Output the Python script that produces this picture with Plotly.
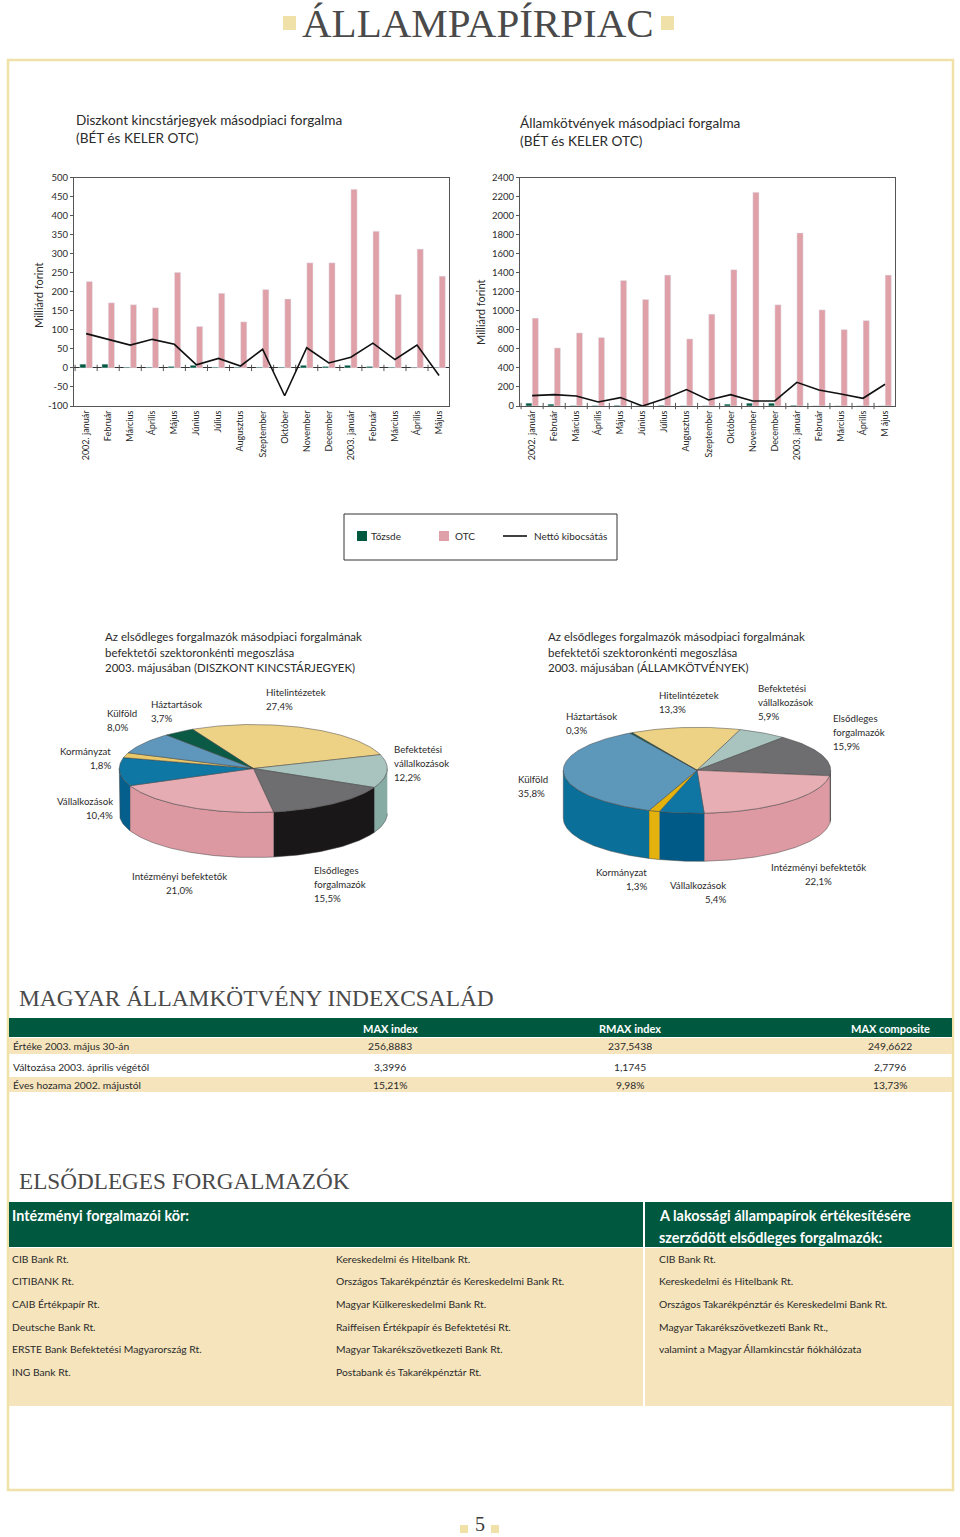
import math
import plotly.graph_objects as go

W, H = 960, 1537
NARROW = "Lato, Liberation Sans, sans-serif"
SERIF = "Liberation Serif, serif"

months_left = ["2002. január", "Február", "Március", "Április", "Május", "Június", "Július", "Augusztus",
               "Szeptember", "Október", "November", "December", "2003. január", "Február", "Március", "Április", "Május"]
months_right = months_left[:-1] + ["M ájus"]

disc_tozsde = [10, 10, 2, 2, 4, 7, 2, 2, 2, 2, 7, 4, 7, 4, 2, 0.5, 1]
disc_otc = [227, 171, 166, 158, 251, 109, 196, 121, 206, 181, 276, 276, 469, 359, 193, 312, 241]
disc_net = [90, 74, 60, 75, 62, 8, 25, 5, 49, -73, 53, 13, 28, 65, 22, 60, -20]
disc_ticks = [-100, -50, 0, 50, 100, 150, 200, 250, 300, 350, 400, 450, 500]

bond_tozsde = [30, 20, 5, 6, 8, 3, 8, 3, 3, 20, 30, 30, 8, 2, 2, 2, 2]
bond_otc = [923, 610, 768, 719, 1319, 1119, 1375, 705, 965, 1432, 2246, 1063, 1818, 1010, 803, 898, 1375]
bond_net = [109, 119, 105, 42, 88, 0, 77, 172, 63, 119, 53, 53, 249, 168, 126, 81, 228]
bond_ticks = [0, 200, 400, 600, 800, 1000, 1200, 1400, 1600, 1800, 2000, 2200, 2400]

pie_names = ["Hitelintézetek", "Befektetési vállalkozások", "Elsődleges forgalmazók", "Intézményi befektetők",
             "Vállalkozások", "Kormányzat", "Külföld", "Háztartások"]
pie_left = [27.4, 12.2, 15.5, 21.0, 10.4, 1.8, 8.0, 3.7]
pie_right = [13.3, 5.9, 15.9, 22.1, 5.4, 1.3, 35.8, 0.3]

index_cols = ["MAX index", "RMAX index", "MAX composite"]
index_rows = ["Értéke 2003. május 30-án", "Változása 2003. április végétől", "Éves hozama 2002. májustól"]
index_vals = [["256,8883", "237,5438", "249,6622"], ["3,3996", "1,1745", "2,7796"], ["15,21%", "9,98%", "13,73%"]]

dealers_a = ["CIB Bank Rt.", "CITIBANK Rt.", "CAIB Értékpapír Rt.", "Deutsche Bank Rt.",
             "ERSTE Bank Befektetési Magyarország Rt.", "ING Bank Rt."]
dealers_b = ["Kereskedelmi és Hitelbank Rt.", "Országos Takarékpénztár és Kereskedelmi Bank Rt.",
             "Magyar Külkereskedelmi Bank Rt.", "Raiffeisen Értékpapír és Befektetési Rt.",
             "Magyar Takarékszövetkezeti Bank Rt.", "Postabank és Takarékpénztár Rt."]
dealers_c = ["CIB Bank Rt.", "Kereskedelmi és Hitelbank Rt.", "Országos Takarékpénztár és Kereskedelmi Bank Rt.",
             "Magyar Takarékszövetkezeti Bank Rt.,", "valamint a Magyar Államkincstár fiókhálózata"]

GREEN = "#00583F"
PINK = "#DFA0A8"
BEIGE = "#F5E4BC"
FRAME = "#F0E1A8"
TXT = "#2B2B2B"
AXIS = "#555555"

fig = go.Figure()
ann, shp = [], []


def px(x):
    return x / W


def py(y):
    return 1 - y / H


def text(x, y, s, size=10, color=TXT, anchor="left", family=NARROW, angle=0):
    if angle == 0:
        x = x - 2 if anchor == "left" else x + 2 if anchor == "right" else x
    ann.append(dict(x=px(x), y=py(y), xref="paper", yref="paper", text=s, showarrow=False, xanchor=anchor,
                    yanchor="middle", align=anchor, textangle=angle, font=dict(family=family, size=size, color=color)))


def rect(x0, y0, x1, y1, fill=None, line=None, lw=0):
    shp.append(dict(type="rect", xref="paper", yref="paper", x0=px(x0), x1=px(x1), y0=py(y0), y1=py(y1),
                    fillcolor=fill, line=dict(color=line, width=lw), layer="below"))


def bars(tozsde, otc, net, xa, ya):
    xs = list(range(17))
    fig.add_trace(go.Bar(x=xs, y=tozsde, marker_color=GREEN, name="Tőzsde", xaxis=xa, yaxis=ya, showlegend=False,
                         cliponaxis=False))
    fig.add_trace(go.Bar(x=xs, y=otc, marker_color=PINK, name="OTC", xaxis=xa, yaxis=ya, showlegend=False))
    fig.add_trace(go.Scatter(x=[i - 0.5 for i in range(18)], y=[0] * 18, mode="markers", xaxis=xa, yaxis=ya,
                             marker=dict(symbol="line-ns", size=4.5, line=dict(color="#444444", width=0.9)),
                             cliponaxis=False, showlegend=False, hoverinfo="skip"))
    fig.add_trace(go.Scatter(x=xs, y=net, mode="lines", line=dict(color="#111111", width=1.6),
                             name="Nettó kibocsátás", xaxis=xa, yaxis=ya, showlegend=False))


bars(disc_tozsde, disc_otc, disc_net, "x", "y")
bars(bond_tozsde, bond_otc, bond_net, "x2", "y2")


def xaxis_cfg(x0, x1, labels, anchor):
    return dict(domain=[px(x0), px(x1)], range=[-0.55, 16.45], anchor=anchor, tickmode="array",
                tickvals=list(range(17)), ticktext=labels, tickangle=-90, ticks="", showgrid=False, zeroline=False,
                showline=True, mirror=True, linecolor=AXIS, linewidth=1, tickfont=dict(family=NARROW, size=9, color=TXT))


def yaxis_cfg(rng, vals, anchor):
    return dict(domain=[py(406), py(177.5)], range=rng, tickmode="array", tickvals=vals, ticktext=[str(v) for v in vals],
                anchor=anchor, ticks="outside", ticklen=3,
                tickcolor=AXIS, showgrid=False, zeroline=True, zerolinecolor="#333333", zerolinewidth=1,
                showline=True, mirror=True, linecolor=AXIS, linewidth=1, tickfont=dict(family=NARROW, size=9.5, color=TXT))


# pie side and top colours
TOP_L = ["#EDD184", "#A9C4BE", "#6E6E70", "#E5ADB3", "#0F77A3", "#E9C96A", "#5F97BC", "#0B5A45"]
SIDE_L = ["#C9AE66", "#85ABA3", "#1A1718", "#DC99A2", "#045F8D", "#C9A830", "#0A7099", "#0B5A45"]
TOP_R = ["#EDD184", "#A9C4BE", "#6E6E70", "#E7AFB4", "#0F76A3", "#E3B20C", "#5D98BB", "#0B5A45"]
SIDE_R = ["#C9AE66", "#85ABA3", "#1A1718", "#DD9AA3", "#005A88", "#E3B20C", "#0A7099", "#0B5A45"]


def pie3d(values, cx, cy, a, b, depth, start, tops, sides):
    t = start
    walls, lids = [], []
    for i, v in enumerate(values):
        t1 = t - v * 3.6
        lids.append((t, t1, tops[i], pie_names[i], v))
        for lo_shift in (0, -360):
            hi = min(t + lo_shift, 0)
            lo = max(t1 + lo_shift, -180)
            if hi > lo:
                walls.append((hi, lo, sides[i]))
        t = t1
    for hi, lo, col in walls:
        n = max(int(hi - lo), 2)
        ang = [math.radians(hi + (lo - hi) * k / n) for k in range(n + 1)]
        xs = [cx + a * math.cos(q) for q in ang]
        top = [cy - b * math.sin(q) for q in ang]
        fig.add_trace(go.Scatter(x=xs + xs[::-1], y=top + [u + depth for u in top[::-1]], mode="lines", fill="toself",
                                 fillcolor=col, line=dict(color="#444444", width=0.5), xaxis="x3", yaxis="y3",
                                 showlegend=False, hoverinfo="skip"))
    for hi, lo, col, name, v in lids:
        n = max(int(hi - lo), 2)
        ang = [math.radians(hi + (lo - hi) * k / n) for k in range(n + 1)]
        xs = [cx] + [cx + a * math.cos(q) for q in ang] + [cx]
        ys = [cy] + [cy - b * math.sin(q) for q in ang] + [cy]
        fig.add_trace(go.Scatter(x=xs, y=ys, mode="lines", fill="toself", fillcolor=col, name=name,
                                 line=dict(color="#444444", width=0.5), xaxis="x3", yaxis="y3", showlegend=False,
                                 text=f"{name}: {v}%", hoverinfo="text"))


pie3d(pie_left, 253.3, 768.5, 134, 44, 45, 117, TOP_L, SIDE_L)
pie3d(pie_right, 697, 770.3, 133.7, 43, 48, 119, TOP_R, SIDE_R)


def pct(v):
    return f"{v:.1f}%".replace(".", ",")


def pie_label(vals, idx, x, y, anchor="left", wrap=False):
    lines = pie_names[idx].split(" ") if wrap else [pie_names[idx]]
    lines.append(pct(vals[idx]))
    for k, s in enumerate(lines):
        text(x, y + (k - (len(lines) - 1) / 2) * 14, s, size=9.7, anchor=anchor)


pie_label(pie_left, 0, 266, 699)
pie_label(pie_left, 7, 151, 711)
pie_label(pie_left, 6, 107, 720)
pie_label(pie_left, 5, 111, 758, "right")
pie_label(pie_left, 4, 113, 808, "right")
pie_label(pie_left, 1, 394, 763, wrap=True)
pie_label(pie_left, 3, 179, 883, "center")
pie_label(pie_left, 2, 314, 884, wrap=True)

pie_label(pie_right, 0, 659, 702)
pie_label(pie_right, 1, 758, 702, wrap=True)
pie_label(pie_right, 2, 833, 732, wrap=True)
pie_label(pie_right, 7, 566, 723)
pie_label(pie_right, 6, 518, 786)
pie_label(pie_right, 5, 647, 879, "right")
pie_label(pie_right, 4, 726, 892, "right")
pie_label(pie_right, 3, 818, 874, "center")

# page furniture
rect(283, 16, 296, 30, fill=FRAME)
rect(661, 16, 674, 30, fill=FRAME)
text(478, 23, "ÁLLAMPAPÍRPIAC", size=41, color="#4A4A4A", anchor="center", family=SERIF)
rect(8, 60, 953, 1490, line=FRAME, lw=2.5)

text(76, 120, "Diszkont kincstárjegyek másodpiaci forgalma", size=13.6)
text(76, 138, "(BÉT és KELER OTC)", size=13.6)
text(520, 123, "Államkötvények másodpiaci forgalma", size=13.6)
text(520, 141, "(BÉT és KELER OTC)", size=13.6)
text(39, 296, "Milliárd forint", size=11, anchor="center", angle=-90)
text(480, 313, "Milliárd forint", size=11, anchor="center", angle=-90)

# legend box
rect(344, 514, 617, 560, line="#333333", lw=1)
rect(357, 531, 367, 541, fill=GREEN)
text(371, 536, "Tőzsde", size=10)
rect(439, 531, 449, 541, fill=PINK)
text(455, 536, "OTC", size=10)
shp.append(dict(type="line", xref="paper", yref="paper", x0=px(503), x1=px(527), y0=py(536), y1=py(536),
                line=dict(color="#111111", width=1.6)))
text(534, 536, "Nettó kibocsátás", size=10)

for x, tail in ((105, "2003. májusában (DISZKONT KINCSTÁRJEGYEK)"), (548, "2003. májusában (ÁLLAMKÖTVÉNYEK)")):
    text(x, 637, "Az elsődleges forgalmazók másodpiaci forgalmának", size=11.5)
    text(x, 652, "befektetői szektoronkénti megoszlása", size=11.5)
    text(x, 667, tail, size=11.5)

# index table
text(19, 998, "MAGYAR ÁLLAMKÖTVÉNY INDEXCSALÁD", size=23.4, color="#4A4A4A", family=SERIF)
rect(9, 1018, 952, 1037, fill=GREEN)
rect(9, 1038, 952, 1054, fill=BEIGE)
rect(9, 1077, 952, 1092, fill=BEIGE)
COLS = [390, 630, 890]
ROWS = [1046, 1067, 1085]
for cx, c in zip(COLS, index_cols):
    text(cx, 1028, f"<b>{c}</b>", size=11, color="white", anchor="center")
for ry, label, vals in zip(ROWS, index_rows, index_vals):
    text(13, ry, label, size=10.3)
    for cx, v in zip(COLS, vals):
        text(cx, ry, v, size=10.3, anchor="center")

# dealers table
text(19, 1181, "ELSŐDLEGES FORGALMAZÓK", size=23.2, color="#4A4A4A", family=SERIF)
rect(9, 1202, 643, 1247, fill=GREEN)
rect(645, 1202, 952, 1247, fill=GREEN)
rect(9, 1248, 643, 1406, fill=BEIGE)
rect(645, 1248, 952, 1406, fill=BEIGE)
text(12, 1215, "<b>Intézményi forgalmazói kör:</b>", size=14.4, color="white")
text(659, 1215, "<b>A lakossági állampapírok értékesítésére</b>", size=14.4, color="white")
text(659, 1237, "<b>szerződött elsődleges forgalmazók:</b>", size=14.4, color="white")
DY = [1259, 1281, 1304, 1327, 1349, 1372]
for x, names in ((12, dealers_a), (336, dealers_b), (659, dealers_c)):
    for y, n in zip(DY, names):
        text(x, y, n, size=10.3)

rect(460, 1525, 468, 1533, fill=FRAME)
rect(491, 1525, 499, 1533, fill=FRAME)
text(480, 1524, "5", size=20, color="#3A3A3A", anchor="center", family=SERIF)

fig.update_layout(
    width=W, height=H, autosize=False, margin=dict(l=0, r=0, t=0, b=0, pad=0, autoexpand=False),
    paper_bgcolor="white", plot_bgcolor="rgba(0,0,0,0)",
    barmode="group", bargap=0.42, bargroupgap=0.03, showlegend=False, annotations=ann, shapes=shp,
    xaxis=xaxis_cfg(74, 449, months_left, "y"), yaxis=yaxis_cfg([-100, 500], disc_ticks, "x"),
    xaxis2=xaxis_cfg(520, 895, months_right, "y2"), yaxis2=yaxis_cfg([0, 2400], bond_ticks, "x2"),
    xaxis3=dict(domain=[0, 1], range=[0, W], visible=False, anchor="y3", fixedrange=True),
    yaxis3=dict(domain=[0, 1], range=[H, 0], visible=False, anchor="x3", fixedrange=True),
)

fig.write_html("out.html", config={"displayModeBar": False},
               post_script="document.body.style.margin='0';document.body.style.overflow='hidden';")
